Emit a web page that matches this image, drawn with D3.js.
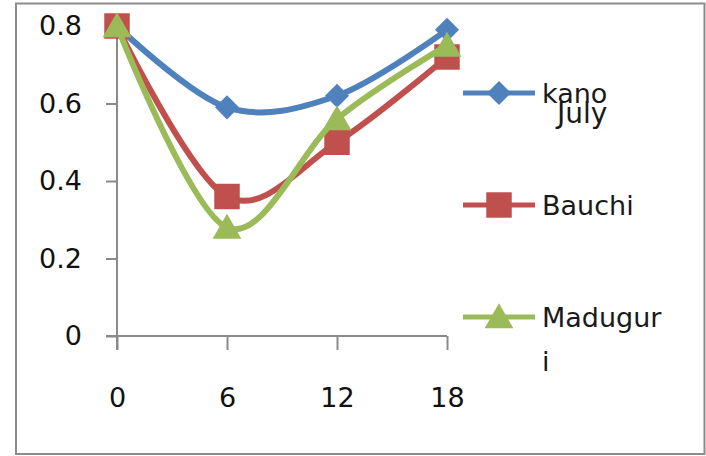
<!DOCTYPE html>
<html><head><meta charset="utf-8">
<script src="https://cdn.jsdelivr.net/npm/d3@7"></script>
<style>
html,body{margin:0;padding:0;background:#fff;}
svg{display:block;font-family:"DejaVu Sans",sans-serif;}
</style></head>
<body>
<svg id="c" width="706" height="456"></svg>
<script>
const hours = [0, 6, 12, 18];
const kano = [0.80, 0.59, 0.62, 0.79];
const bauchi = [0.80, 0.36, 0.50, 0.72];
const maduguri = [0.80, 0.28, 0.56, 0.75];
const seriesNames = ["kano", "Bauchi", "Madugur|i"];
const yTicks = [0, 0.2, 0.4, 0.6, 0.8];
const title = "July";

const colors = ["#4F81BD", "#C0504D", "#9BBB59"];
const series = [kano, bauchi, maduguri].map((v, i) => ({name: seriesNames[i], values: v, color: colors[i], shape: i}));

const svg = d3.select("#c");
const x = d3.scaleLinear().domain([0, 18]).range([117, 447]);
const y = d3.scaleLinear().domain([0, 0.8]).range([336, 26]);
const axisColor = "#8a8a8a";
const fs = 27;

// outer frame
svg.append("path").attr("d", "M16,455 V3.5 H704.5 V454 H16")
  .attr("fill", "none").attr("stroke", "#8c8c8c").attr("stroke-width", 2);

// y axis
const gy = svg.append("g").attr("transform", `translate(${x(0)},0)`)
  .call(d3.axisLeft(y).tickValues(yTicks).tickSize(11).tickSizeOuter(0).tickFormat(d3.format("")));
gy.select(".domain").remove();
gy.selectAll(".tick line").attr("stroke", axisColor).attr("stroke-width", 2);
gy.selectAll(".tick text").attr("x", -35).attr("dy", "0.33em")
  .attr("font-size", fs).attr("font-family", "DejaVu Sans").attr("fill", "#111");
svg.append("line").attr("x1", x(0)).attr("x2", x(0)).attr("y1", y(0.8)).attr("y2", y(0) + 14)
  .attr("stroke", axisColor).attr("stroke-width", 2);

// x axis
const gx = svg.append("g").attr("transform", `translate(0,${y(0)})`)
  .call(d3.axisBottom(x).tickValues(hours).tickSize(14).tickSizeOuter(0));
gx.select(".domain").remove();
gx.selectAll(".tick line").attr("stroke", axisColor).attr("stroke-width", 2);
gx.selectAll(".tick text").attr("y", 71).attr("dy", 0)
  .attr("font-size", fs).attr("font-family", "DejaVu Sans").attr("fill", "#111");
svg.append("line").attr("x1", x(0) - 11).attr("x2", x(18)).attr("y1", y(0)).attr("y2", y(0))
  .attr("stroke", axisColor).attr("stroke-width", 2);

// lines & markers
const line = d3.line().x((d, i) => x(hours[i])).y(d => y(d)).curve(d3.curveCatmullRom.alpha(0));
const sym = (k) => {
  if (k === 0) return d3.symbol().type(d3.symbolSquare).size(290)();
  if (k === 1) return d3.symbol().type(d3.symbolSquare).size(650)();
  return d3.symbol().type(d3.symbolTriangle).size(360)();
};
const rot = (k) => k === 0 ? " rotate(45)" : "";
const dy = (k) => k === 2 ? 3 : 0;
series.forEach(s => {
  svg.append("path").attr("d", line(s.values)).attr("fill", "none")
    .attr("stroke", s.color).attr("stroke-width", 6).attr("stroke-linejoin", "round");
  svg.selectAll(null).data(s.values).enter().append("path")
    .attr("d", sym(s.shape))
    .attr("transform", (d, i) => `translate(${x(hours[i])},${y(d) + dy(s.shape)})${rot(s.shape)}`)
    .attr("fill", s.color);
});

// legend
const lg = svg.append("g");
series.forEach((s, i) => {
  const ly = 93 + i * 112;
  lg.append("line").attr("x1", 463).attr("x2", 535).attr("y1", ly).attr("y2", ly)
    .attr("stroke", s.color).attr("stroke-width", 5);
  lg.append("path").attr("d", sym(s.shape))
    .attr("transform", `translate(499,${ly + dy(s.shape)})${rot(s.shape)}`).attr("fill", s.color);
  s.name.split("|").forEach((part, j) => {
    lg.append("text").attr("x", 542).attr("y", ly + 10 + j * 44).text(part)
      .attr("font-size", fs).attr("fill", "#1a1a1a");
  });
});

// title (overlapping legend as in the original)
svg.append("text").attr("x", 557).attr("y", 123).text(title)
  .attr("font-size", 28).attr("fill", "#1a1a1a");
</script>
</body></html>
